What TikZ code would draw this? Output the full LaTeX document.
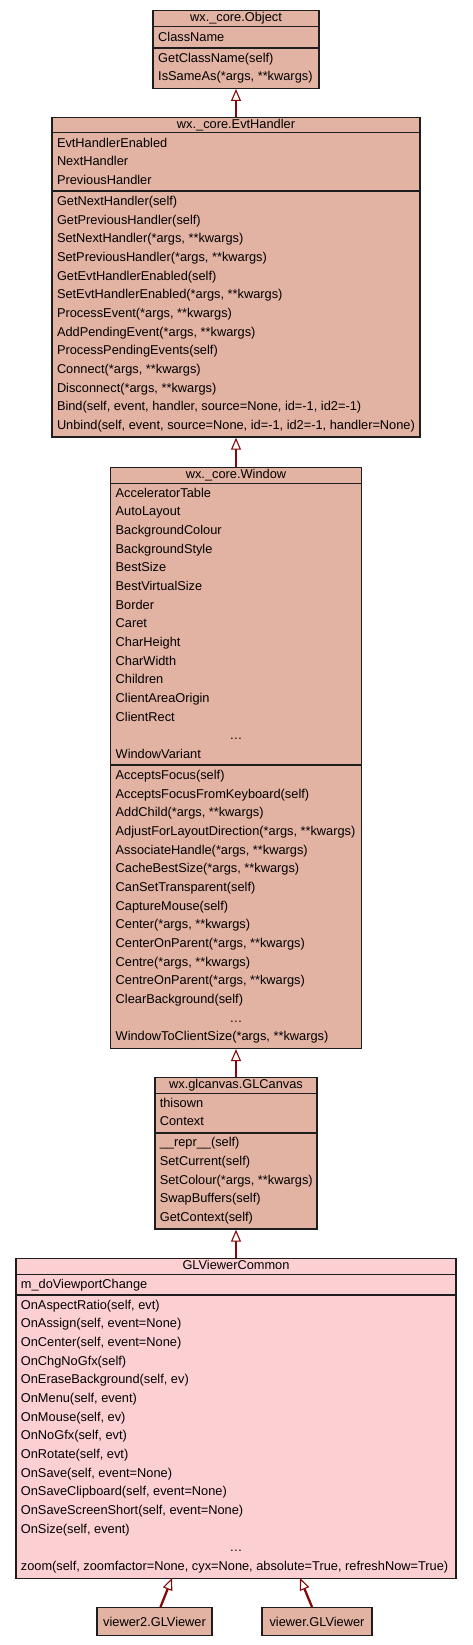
\documentclass[tikz,border=0pt]{standalone}
\usepackage{fontspec}
\setmainfont{Liberation Sans}
\usetikzlibrary{arrows.meta}
\definecolor{salmon}{RGB}{226,178,162}
\definecolor{pinkbox}{RGB}{252,208,210}
\definecolor{arrowred}{RGB}{134,8,8}
\definecolor{boxline}{RGB}{30,30,30}
\newcommand\umlfont{\fontsize{12.8}{15}\selectfont}
\tikzset{
  cls/.style={draw=boxline, line width=1.4pt, fill=salmon, rectangle, inner sep=0pt, anchor=north},
  rowtxt/.style={anchor=base west, inner sep=0pt, font=\umlfont},
  hdr/.style={anchor=base, inner sep=0pt, font=\umlfont},
  hsep/.style={draw=boxline, line width=1pt},
  ssep/.style={draw=boxline, line width=1.8pt},
  inh/.style={draw=arrowred, line width=2.3pt, -{Triangle[open, fill=white, length=12pt, width=10pt, line width=1.1pt]}}
}
\begin{document}
\begin{tikzpicture}[x=1pt,y=-1pt]
\useasboundingbox (0,0) rectangle (472,1645);
\fill[white] (0,0) rectangle (472,1645);

% ---------------- wx._core.Object
\node[cls, minimum width=166, minimum height=77.6] (obj) at (236,10) {};
\draw[hsep] (153,27) -- (319,27);
\draw[ssep] (153,47.97) -- (319,47.97);
\node[hdr] (obj-h) at (236,21.7) {wx.\_core.Object};
\node[rowtxt] (obj-a0) at (158,41.2) {ClassName};
\node[rowtxt] (obj-m0) at (158,62.17) {GetClassName(self)};
\node[rowtxt] (obj-m1) at (158,80.84) {IsSameAs(*args, **kwargs)};

% ---------------- wx._core.EvtHandler
\node[cls, minimum width=368.3, minimum height=319.3] (eh) at (236,117) {};
\draw[hsep] (51.85,133) -- (420.15,133);
\draw[ssep] (51.85,191.31) -- (420.15,191.31);
\node[hdr] (eh-h) at (236,128.7) {wx.\_core.EvtHandler};
\foreach \t [count=\i from 0] in {EvtHandlerEnabled, NextHandler, PreviousHandler}
  \node[rowtxt] (eh-a\i) at (56.8,147.2+\i*18.67) {\t};
\foreach \t [count=\i from 0] in {GetNextHandler(self), GetPreviousHandler(self),
  {SetNextHandler(*args, **kwargs)}, {SetPreviousHandler(*args, **kwargs)},
  GetEvtHandlerEnabled(self), {SetEvtHandlerEnabled(*args, **kwargs)},
  {ProcessEvent(*args, **kwargs)}, {AddPendingEvent(*args, **kwargs)},
  ProcessPendingEvents(self), {Connect(*args, **kwargs)}, {Disconnect(*args, **kwargs)},
  {Bind(self, event, handler, source=None, id=-1, id2=-1)},
  {Unbind(self, event, source=None, id=-1, id2=-1, handler=None)}}
  \node[rowtxt] (eh-m\i) at (56.8,205.51+\i*18.67) {\t};

% ---------------- wx._core.Window
\node[cls, minimum width=251, minimum height=580.7] (win) at (236,467) {};
\draw[hsep] (110.5,483) -- (361.5,483);
\draw[ssep] (110.5,765.35) -- (361.5,765.35);
\node[hdr] (win-h) at (236,478.7) {wx.\_core.Window};
\foreach \t [count=\i from 0] in {AcceleratorTable, AutoLayout, BackgroundColour,
  BackgroundStyle, BestSize, BestVirtualSize, Border, Caret, CharHeight, CharWidth,
  Children, ClientAreaOrigin, ClientRect}
  \node[rowtxt] (win-a\i) at (115.5,497.2+\i*18.67) {\t};
\node[hdr] (win-adots) at (236,497.2+13*18.67) {\dots};
\node[rowtxt] (win-a14) at (115.5,497.2+14*18.67) {WindowVariant};
\foreach \t [count=\i from 0] in {AcceptsFocus(self), AcceptsFocusFromKeyboard(self),
  {AddChild(*args, **kwargs)}, {AdjustForLayoutDirection(*args, **kwargs)},
  {AssociateHandle(*args, **kwargs)}, {CacheBestSize(*args, **kwargs)},
  CanSetTransparent(self), CaptureMouse(self), {Center(*args, **kwargs)},
  {CenterOnParent(*args, **kwargs)}, {Centre(*args, **kwargs)},
  {CentreOnParent(*args, **kwargs)}, ClearBackground(self)}
  \node[rowtxt] (win-m\i) at (115.5,779.55+\i*18.67) {\t};
\node[hdr] (win-mdots) at (236,779.55+13*18.67) {\dots};
\node[rowtxt] (win-m14) at (115.5,779.55+14*18.67) {WindowToClientSize(*args, **kwargs)};

% ---------------- wx.glcanvas.GLCanvas
\node[cls, minimum width=162, minimum height=151.3] (glc) at (236,1077) {};
\draw[hsep] (155,1093) -- (317,1093);
\draw[ssep] (155,1132.64) -- (317,1132.64);
\node[hdr] (glc-h) at (236,1088.7) {wx.glcanvas.GLCanvas};
\node[rowtxt] (glc-a0) at (159.6,1107.2) {thisown};
\node[rowtxt] (glc-a1) at (159.6,1125.87) {Context};
\foreach \t [count=\i from 0] in {\_\_repr\_\_(self), SetCurrent(self),
  {SetColour(*args, **kwargs)}, SwapBuffers(self), GetContext(self)}
  \node[rowtxt] (glc-m\i) at (159.6,1146.84+\i*18.67) {\t};

% ---------------- GLViewerCommon
\node[cls, fill=pinkbox, minimum width=440.3, minimum height=320] (glvc) at (236,1258) {};
\draw[hsep] (15.85,1274) -- (456.15,1274);
\draw[ssep] (15.85,1294.97) -- (456.15,1294.97);
\node[hdr] (glvc-h) at (236,1269.7) {GLViewerCommon};
\node[rowtxt] (glvc-a0) at (20.7,1288.2) {m\_doViewportChange};
\foreach \t [count=\i from 0] in {{OnAspectRatio(self, evt)}, {OnAssign(self, event=None)},
  {OnCenter(self, event=None)}, OnChgNoGfx(self), {OnEraseBackground(self, ev)},
  {OnMenu(self, event)}, {OnMouse(self, ev)}, {OnNoGfx(self, evt)}, {OnRotate(self, evt)},
  {OnSave(self, event=None)}, {OnSaveClipboard(self, event=None)},
  {OnSaveScreenShort(self, event=None)}, {OnSize(self, event)}}
  \node[rowtxt] (glvc-m\i) at (20.7,1309.17+\i*18.67) {\t};
\node[hdr] (glvc-mdots) at (236,1309.17+13*18.67) {\dots};
\node[rowtxt] (glvc-m14) at (20.7,1309.17+14*18.67) {zoom(self, zoomfactor=None, cyx=None, absolute=True, refreshNow=True)};

% ---------------- leaf classes
\node[cls, minimum width=115, minimum height=28, font=\umlfont] (v2) at (154.5,1607) {viewer2.GLViewer};
\node[cls, minimum width=110, minimum height=28, font=\umlfont] (vw) at (317,1607) {viewer.GLViewer};

% ---------------- inheritance connectors
\coordinate (glvc-in1) at (172,1578);
\coordinate (glvc-in2) at (300,1578);
\draw[inh] (eh.north) -- (obj.south);
\draw[inh] (win.north) -- (eh.south);
\draw[inh] (glc.north) -- (win.south);
\draw[inh] (glvc.north) -- (glc.south);
\draw[inh] ([xshift=6pt]v2.north) -- (glvc-in1);
\draw[inh] ([xshift=-5pt]vw.north) -- (glvc-in2);
\end{tikzpicture}
\end{document}
